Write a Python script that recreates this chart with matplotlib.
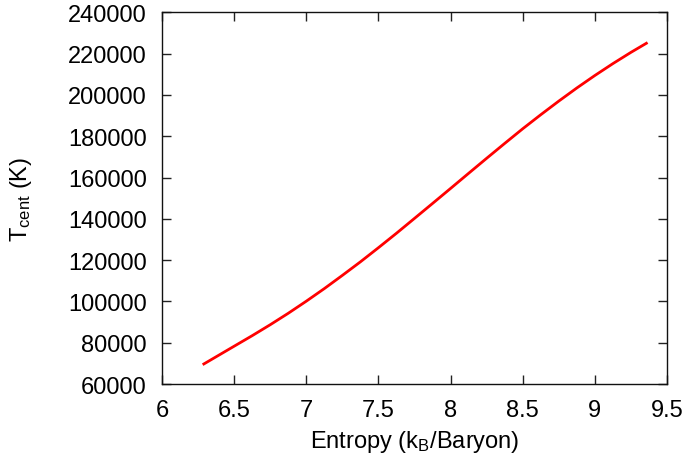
import matplotlib

matplotlib.use("Agg")
import matplotlib.pyplot as plt
from matplotlib import rcParams

rcParams["font.family"] = ["Liberation Sans", "DejaVu Sans"]
rcParams["mathtext.default"] = "regular"

# values
entropy = [6.29, 6.5, 6.625, 6.75, 6.875, 7.0, 7.125, 7.25, 7.375, 7.5,
           7.625, 7.75, 7.875, 8.0, 8.125, 8.25, 8.375, 8.5, 8.625, 8.75,
           8.875, 9.0, 9.125, 9.25, 9.357]
t_cent = [69700, 78300, 83400, 88700, 94250, 100100, 106200, 112600, 119150, 126000,
          133000, 140200, 147430, 154700, 162020, 169300, 176500, 183600, 190400, 197000,
          203350, 209400, 215150, 220600, 225000]

x_ticks = [6, 6.5, 7, 7.5, 8, 8.5, 9, 9.5]
x_labels = ["6", "6.5", "7", "7.5", "8", "8.5", "9", "9.5"]
y_ticks = list(range(60000, 240001, 20000))

FS = 17

fig = plt.figure(figsize=(6.89, 4.64), dpi=100)
ax = fig.add_axes([162 / 689, 79 / 464, 505 / 689, 371.7 / 464])

ax.plot(entropy, t_cent, color="#ff0000", linewidth=2.0,
        solid_joinstyle="round")

ax.set_xlim(6, 9.5)
ax.set_ylim(60000, 240000)
ax.set_xticks(x_ticks)
ax.set_xticklabels(x_labels)
ax.set_yticks(y_ticks)
ax.set_yticklabels([str(v) for v in y_ticks])

ax.tick_params(direction="in", length=6.5, width=1.0, color="#222222",
               top=True, right=True, labelsize=FS)
ax.tick_params(axis="x", pad=11)
ax.tick_params(axis="y", pad=11)
for s in ax.spines.values():
    s.set_linewidth(1.0)
    s.set_color("#111111")

fig.text(415 / 689, (464 - 448.3) / 464, "Entropy (k$_{B}$/Baryon)",
         ha="center", va="baseline", fontsize=FS)
fig.text(26.7 / 689, (464 - 199) / 464, "T$_{cent}$ (K)", rotation=90,
         rotation_mode="anchor", ha="center", va="baseline", fontsize=FS)

fig.savefig("out.png", dpi=100)
plt.close(fig)
